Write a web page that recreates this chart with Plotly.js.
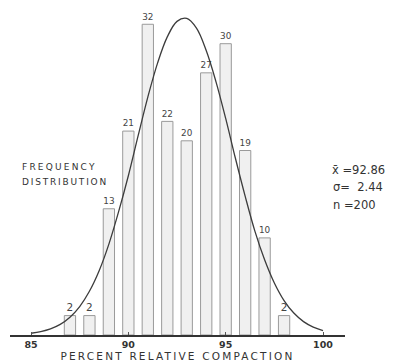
<!DOCTYPE html>
<html>
<head>
<meta charset="utf-8">
<script src="https://cdn.plot.ly/plotly-3.0.1.min.js"></script>
<style>html,body{margin:0;padding:0;background:#fff;}#chart{width:399px;height:364px;}</style>
</head>
<body>
<div id="chart"></div>
<script>
// Histogram: percent relative compaction (bin centres) and frequencies
const binCenters = [87, 88, 89, 90, 91, 92, 93, 94, 95, 96, 97, 98];
const frequencies = [2, 2, 13, 21, 32, 22, 20, 27, 30, 19, 10, 2];
const barLabels = ["2", "2", "13", "21", "32", "22", "20", "27", "30", "19", "10", "2"];

// Fitted normal curve
const curveX = [85, 85.5, 86, 86.5, 87, 87.5, 88, 88.5, 89, 89.5, 90, 90.5, 91, 91.5, 92, 92.5, 93, 93.5, 94, 94.5, 95, 95.5, 96, 96.5, 97, 97.5, 98, 98.5, 99, 99.5, 100];
const curveY = [0.18, 0.35, 0.63, 1.09, 1.83, 2.93, 4.5, 6.62, 9.36, 12.7, 16.4, 20.5, 24.5, 28.0, 30.7, 32.3, 32.6, 31.6, 29.3, 26.1, 22.3, 18.2, 14.3, 10.7, 7.75, 5.36, 3.55, 2.26, 1.38, 0.81, 0.45];

const tickVals = [85, 90, 95, 100];
const tickText = ["85", "90", "95", "100"];

const statLines = ["x\u0304 =92.86", "\u03c3=  2.44", "n =200"];

const ink = "#333333";

const traces = [
  {
    type: "bar",
    x: binCenters,
    y: frequencies,
    width: 0.58,
    marker: { color: "#f0f0f0", line: { color: "#9a9a9a", width: 1 } },
    text: barLabels,
    textposition: "outside",
    textfont: { family: "DejaVu Sans", size: 10.5, color: "#444" },
    cliponaxis: false,
    hoverinfo: "skip"
  },
  {
    type: "scatter",
    mode: "lines",
    x: curveX,
    y: curveY,
    line: { color: "#3c3c3c", width: 1.3, shape: "spline" },
    hoverinfo: "skip"
  }
];

const layout = {
  width: 399,
  height: 364,
  margin: { l: 10, r: 54, t: 0, b: 29 },
  paper_bgcolor: "#ffffff",
  plot_bgcolor: "#ffffff",
  showlegend: false,
  bargap: 0,
  xaxis: {
    range: [83.92, 101.13],
    showgrid: false,
    zeroline: false,
    showline: true,
    linecolor: "#333",
    linewidth: 1.5,
    tickvals: tickVals,
    ticktext: tickText,
    ticks: "inside",
    ticklen: 3,
    tickcolor: "#555",
    tickfont: { family: "DejaVu Sans", size: 9.5, color: ink, weight: "bold" },
    title: {
      text: '<span style="letter-spacing:2.2px">PERCENT RELATIVE COMPACTION</span>',
      font: { family: "DejaVu Sans", size: 10.5, color: ink },
      standoff: 2
    },
    fixedrange: true
  },
  yaxis: {
    range: [0, 34.5],
    visible: false,
    fixedrange: true
  },
  annotations: [
    {
      xref: "paper", yref: "paper", x: (20 - 10) / 335, y: (335 - 167) / 335,
      xanchor: "left", yanchor: "middle", showarrow: false,
      text: '<span style="letter-spacing:2.2px">FREQUENCY</span>',
      font: { family: "DejaVu Sans", size: 9, color: ink }
    },
    {
      xref: "paper", yref: "paper", x: (20 - 10) / 335, y: (335 - 182) / 335,
      xanchor: "left", yanchor: "middle", showarrow: false,
      text: '<span style="letter-spacing:1.8px">DISTRIBUTION</span>',
      font: { family: "DejaVu Sans", size: 9, color: ink }
    },
    {
      xref: "paper", yref: "paper", x: (330 - 10) / 335, y: (335 - 170) / 335,
      xanchor: "left", yanchor: "middle", showarrow: false,
      text: statLines[0],
      font: { family: "DejaVu Sans", size: 11.5, color: ink }
    },
    {
      xref: "paper", yref: "paper", x: (331 - 10) / 335, y: (335 - 187) / 335,
      xanchor: "left", yanchor: "middle", showarrow: false,
      text: statLines[1],
      font: { family: "DejaVu Sans", size: 11.5, color: ink }
    },
    {
      xref: "paper", yref: "paper", x: (331 - 10) / 335, y: (335 - 205) / 335,
      xanchor: "left", yanchor: "middle", showarrow: false,
      text: statLines[2],
      font: { family: "DejaVu Sans", size: 11.5, color: ink }
    }
  ]
};

Plotly.newPlot("chart", traces, layout, { staticPlot: true, displayModeBar: false });
</script>
</body>
</html>
